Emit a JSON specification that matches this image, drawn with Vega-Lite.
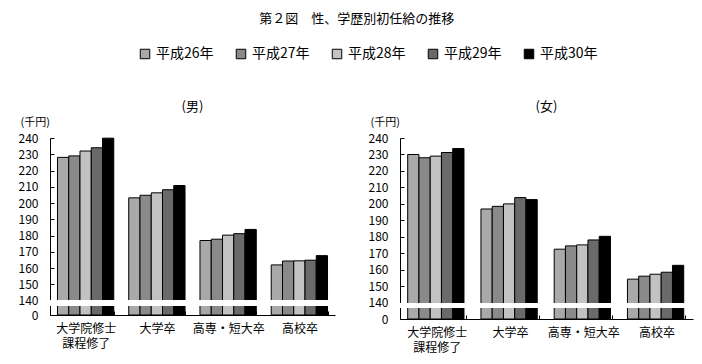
{
  "$schema": "https://vega.github.io/schema/vega-lite/v6.json",
  "background": "white",
  "padding": {"left": 18, "top": 13, "right": 5, "bottom": 5},
  "config": {"font": "Noto Sans CJK JP", "view": {"stroke": null},
    "axisY": {"grid": false, "tickSize": -4, "tickColor": "black", "domainColor": "black", "labelFontSize": 12, "labelColor": "black", "labelPadding": 16, "labelOverlap": false, "labelSeparation": 0,
              "titleAngle": 0, "titleAlign": "left", "titleBaseline": "bottom", "titleX": -30, "titleY": -11, "titleFontSize": 11, "titleFontWeight": "normal", "titleColor": "black"},
    "axisX": {"labelAngle": 0, "labelFontSize": 12, "labelColor": "black", "tickBand": "extent", "tickSize": -4, "tickColor": "black", "domainColor": "black", "labelPadding": 12, "labelOverlap": false, "labelLineHeight": 15},
    "title": {"fontWeight": "normal", "color": "black"}
  },
  "title": {"text": "第２図　性、学歴別初任給の推移", "fontSize": 13, "anchor": "middle", "offset": 21},
  "data": {"values": [
    {"sex": "男", "edu": "大学院修士課程修了", "year": "平成26年", "value": 228.1},
    {"sex": "男", "edu": "大学院修士課程修了", "year": "平成27年", "value": 229.0},
    {"sex": "男", "edu": "大学院修士課程修了", "year": "平成28年", "value": 232.0},
    {"sex": "男", "edu": "大学院修士課程修了", "year": "平成29年", "value": 234.0},
    {"sex": "男", "edu": "大学院修士課程修了", "year": "平成30年", "value": 239.9},
    {"sex": "男", "edu": "大学卒", "year": "平成26年", "value": 203.2},
    {"sex": "男", "edu": "大学卒", "year": "平成27年", "value": 204.8},
    {"sex": "男", "edu": "大学卒", "year": "平成28年", "value": 206.3},
    {"sex": "男", "edu": "大学卒", "year": "平成29年", "value": 208.2},
    {"sex": "男", "edu": "大学卒", "year": "平成30年", "value": 210.8},
    {"sex": "男", "edu": "高専・短大卒", "year": "平成26年", "value": 177.0},
    {"sex": "男", "edu": "高専・短大卒", "year": "平成27年", "value": 177.8},
    {"sex": "男", "edu": "高専・短大卒", "year": "平成28年", "value": 180.3},
    {"sex": "男", "edu": "高専・短大卒", "year": "平成29年", "value": 181.2},
    {"sex": "男", "edu": "高専・短大卒", "year": "平成30年", "value": 183.8},
    {"sex": "男", "edu": "高校卒", "year": "平成26年", "value": 162.0},
    {"sex": "男", "edu": "高校卒", "year": "平成27年", "value": 164.4},
    {"sex": "男", "edu": "高校卒", "year": "平成28年", "value": 164.5},
    {"sex": "男", "edu": "高校卒", "year": "平成29年", "value": 164.9},
    {"sex": "男", "edu": "高校卒", "year": "平成30年", "value": 167.7},
    {"sex": "女", "edu": "大学院修士課程修了", "year": "平成26年", "value": 230.0},
    {"sex": "女", "edu": "大学院修士課程修了", "year": "平成27年", "value": 228.0},
    {"sex": "女", "edu": "大学院修士課程修了", "year": "平成28年", "value": 229.0},
    {"sex": "女", "edu": "大学院修士課程修了", "year": "平成29年", "value": 231.2},
    {"sex": "女", "edu": "大学院修士課程修了", "year": "平成30年", "value": 233.6},
    {"sex": "女", "edu": "大学卒", "year": "平成26年", "value": 196.9},
    {"sex": "女", "edu": "大学卒", "year": "平成27年", "value": 198.5},
    {"sex": "女", "edu": "大学卒", "year": "平成28年", "value": 200.0},
    {"sex": "女", "edu": "大学卒", "year": "平成29年", "value": 203.8},
    {"sex": "女", "edu": "大学卒", "year": "平成30年", "value": 202.6},
    {"sex": "女", "edu": "高専・短大卒", "year": "平成26年", "value": 172.5},
    {"sex": "女", "edu": "高専・短大卒", "year": "平成27年", "value": 174.5},
    {"sex": "女", "edu": "高専・短大卒", "year": "平成28年", "value": 175.1},
    {"sex": "女", "edu": "高専・短大卒", "year": "平成29年", "value": 178.1},
    {"sex": "女", "edu": "高専・短大卒", "year": "平成30年", "value": 180.3},
    {"sex": "女", "edu": "高校卒", "year": "平成26年", "value": 154.3},
    {"sex": "女", "edu": "高校卒", "year": "平成27年", "value": 156.1},
    {"sex": "女", "edu": "高校卒", "year": "平成28年", "value": 157.3},
    {"sex": "女", "edu": "高校卒", "year": "平成29年", "value": 158.5},
    {"sex": "女", "edu": "高校卒", "year": "平成30年", "value": 162.7}
  ]},
  "spacing": 30,
  "resolve": {"scale": {"y": "independent", "x": "independent"}},
  "hconcat": [
    {
      "title": {"text": "(男)", "fontSize": 13, "offset": 2},
      "transform": [{"filter": "datum.sex == '男'"}],
      "width": 285,
      "height": 177,
      "layer": [
        {
          "mark": {"type": "bar", "stroke": "black", "strokeWidth": 1},
          "encoding": {
            "x": {"field": "edu", "type": "nominal", "sort": ["大学院修士課程修了", "大学卒", "高専・短大卒", "高校卒"],
                  "scale": {"paddingInner": 0.21, "paddingOuter": 0.105},
                  "axis": {"title": null, "labelExpr": "datum.value == '大学院修士課程修了' ? ['大学院修士', '課程修了'] : datum.value"}},
            "xOffset": {"field": "year", "type": "nominal", "sort": ["平成26年", "平成27年", "平成28年", "平成29年", "平成30年"], "scale": {"paddingInner": 0, "paddingOuter": 0}},
            "y": {"field": "value", "type": "quantitative",
                  "scale": {"domain": [0, 140, 240], "range": [177, 162.7, 0]},
                  "axis": {"title": "(千円)", "values": [0, 140, 150, 160, 170, 180, 190, 200, 210, 220, 230, 240], "labelOverlap": false, "labelFlush": false}},
            "fill": {"field": "year", "type": "nominal",
                     "scale": {"domain": ["平成26年", "平成27年", "平成28年", "平成29年", "平成30年"], "range": ["#a9a9a9", "#8a8a8a", "#c2c2c2", "#6a6a6a", "#000000"]},
                     "legend": {"orient": "none", "legendX": 88, "legendY": -91, "direction": "horizontal", "title": null, "symbolType": "square", "symbolSize": 90, "symbolStrokeColor": "black", "symbolStrokeWidth": 1, "labelFontSize": 14, "labelColor": "black", "columnPadding": 20}}
          }
        },
        {
          "mark": {"type": "rule", "color": "white", "strokeWidth": 5},
          "encoding": {"y": {"datum": 115, "type": "quantitative", "axis": {"title": "(千円)", "values": [0, 140, 150, 160, 170, 180, 190, 200, 210, 220, 230, 240], "labelOverlap": false, "labelFlush": false}}}
        }
      ]
    },
    {
      "title": {"text": "(女)", "fontSize": 13, "offset": 2},
      "transform": [{"filter": "datum.sex == '女'"}],
      "width": 293,
      "height": 181,
      "layer": [
        {
          "mark": {"type": "bar", "stroke": "black", "strokeWidth": 1},
          "encoding": {
            "x": {"field": "edu", "type": "nominal", "sort": ["大学院修士課程修了", "大学卒", "高専・短大卒", "高校卒"],
                  "scale": {"paddingInner": 0.21, "paddingOuter": 0.105},
                  "axis": {"title": null, "labelExpr": "datum.value == '大学院修士課程修了' ? ['大学院修士', '課程修了'] : datum.value"}},
            "xOffset": {"field": "year", "type": "nominal", "sort": ["平成26年", "平成27年", "平成28年", "平成29年", "平成30年"], "scale": {"paddingInner": 0, "paddingOuter": 0}},
            "y": {"field": "value", "type": "quantitative",
                  "scale": {"domain": [0, 140, 240], "range": [181, 164.7, 0]},
                  "axis": {"title": "(千円)", "values": [0, 140, 150, 160, 170, 180, 190, 200, 210, 220, 230, 240], "labelOverlap": false, "labelFlush": false}},
            "fill": {"field": "year", "type": "nominal", "legend": null,
                     "scale": {"domain": ["平成26年", "平成27年", "平成28年", "平成29年", "平成30年"], "range": ["#a9a9a9", "#8a8a8a", "#c2c2c2", "#6a6a6a", "#000000"]}}
          }
        },
        {
          "mark": {"type": "rule", "color": "white", "strokeWidth": 5},
          "encoding": {"y": {"datum": 115, "type": "quantitative", "axis": {"title": "(千円)", "values": [0, 140, 150, 160, 170, 180, 190, 200, 210, 220, 230, 240], "labelOverlap": false, "labelFlush": false}}}
        }
      ]
    }
  ]
}
